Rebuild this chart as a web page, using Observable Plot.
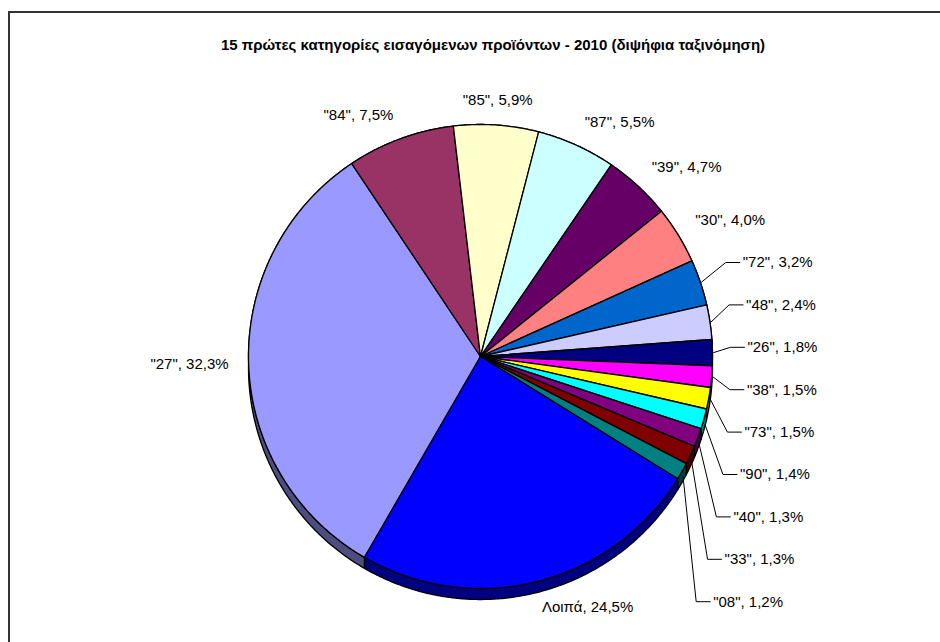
<!DOCTYPE html>
<html><head><meta charset="utf-8">
<script src="https://cdn.jsdelivr.net/npm/d3@7"></script>
<script src="https://cdn.jsdelivr.net/npm/@observablehq/plot@0.6"></script>
<style>
html,body{margin:0;padding:0;background:#fff;width:940px;height:642px;overflow:hidden;position:relative;font-family:"Liberation Sans",Arial,sans-serif}
#frame{position:absolute;left:8px;top:11px;width:1000px;height:700px;border-left:2px solid #333;border-top:2px solid #333;}
#title{position:absolute;top:36px;left:0;width:986px;text-align:center;font-weight:bold;font-size:15px;color:#000;line-height:18px}
#chart{position:absolute;left:0;top:60px}
</style></head><body>
<div id="frame"></div>
<div id="title">15 πρώτες κατηγορίες εισαγόμενων προϊόντων - 2010 (διψήφια ταξινόμηση)</div>
<div id="chart"></div>
<script>
// ---- data ----
const categories = ['"27"', '"84"', '"85"', '"87"', '"39"', '"30"', '"72"', '"48"', '"26"', '"38"', '"73"', '"90"', '"40"', '"33"', '"08"', 'Λοιπά'];
const shares = [32.3, 7.5, 5.9, 5.5, 4.7, 4.0, 3.2, 2.4, 1.8, 1.5, 1.5, 1.4, 1.3, 1.3, 1.2, 24.5];
// ---- styles ----
const palette = ["#9999FF", "#993366", "#FFFFCC", "#CCFFFF", "#660066", "#FF8080", "#0066CC", "#CCCCFF", "#000080", "#FF00FF", "#FFFF00", "#00FFFF", "#800080", "#800000", "#008080", "#0000FF"];

const W = 940, H = 582;          // svg size
const R = 232;                   // pie radius in px
const cx = 480, cy = 296;        // pie centre in svg px
const depth = 11 / R;            // 3D side depth in radius units
const startAngle = 210 * Math.PI / 180;

const rows = categories.map((c, i) => ({cat: c, share: shares[i],
  label: `${c}, ${shares[i].toFixed(1).replace(".", ",")}%`}));
const arcs = d3.pie().sort(null).value(d => d.share)
  .startAngle(startAngle).endAngle(startAngle + 2 * Math.PI)(rows);

function arcPts(a0, a1, dy) {
  const n = Math.max(2, Math.ceil(Math.abs(a1 - a0) / (Math.PI / 360)));
  const out = [];
  for (let k = 0; k <= n; k++) {
    const a = a0 + (a1 - a0) * k / n;
    out.push([Math.sin(a), Math.cos(a) - dy]);
  }
  return out;
}

const wedges = [], bands = [];
arcs.forEach(a => {
  const key = a.data.cat;
  [[0, 0], ...arcPts(a.startAngle, a.endAngle, 0)].forEach(([x, y]) => wedges.push({cat: key, x, y}));
  [...arcPts(a.startAngle, a.endAngle, 0), ...arcPts(a.endAngle, a.startAngle, depth)]
    .forEach(([x, y]) => bands.push({cat: key, x, y}));
});

// ---- labels ----
const small = arcs.filter(a => a.data.share < 3.5);
const big = arcs.filter(a => a.data.share >= 3.5);
const gap = 20 / R;
const bigLabels = big.map(a => {
  const m = (a.startAngle + a.endAngle) / 2;
  const s = Math.sin(m), c = Math.cos(m);
  return {text: a.data.label, x: s * (1 + gap), y: c * (1 + gap),
    ta: s > 0.2 ? "start" : s < -0.2 ? "end" : "middle",
    la: c > 0.25 ? "bottom" : c < -0.25 ? "top" : "middle"};
});
const step = 42.4 / R, top0 = 94 / R;
const leaders = [], smallLabels = [];
small.forEach((a, k) => {
  const m = (a.startAngle + a.endAngle) / 2;
  const ly = top0 - k * step;
  const lx = (267 / R) * Math.sqrt(1 - Math.pow(ly / (500 / R), 2));
  const pts = [[Math.sin(m) * 1.005, Math.cos(m) * 1.005 - (Math.cos(m) < -0.2 ? depth * 0.5 : 0)],
               [lx - 17 / R, ly], [lx - 3 / R, ly]];
  pts.forEach(([x, y]) => leaders.push({cat: a.data.cat, x, y}));
  smallLabels.push({text: a.data.label, x: lx, y: ly});
});

const font = {fontFamily: "Liberation Sans, Arial, sans-serif", fontSize: 15, fill: "#000"};
const textMarks = [];
d3.groups(bigLabels, d => d.ta + "|" + d.la).forEach(([k, arr]) => {
  const [ta, la] = k.split("|");
  textMarks.push(Plot.text(arr, {x: "x", y: "y", text: "text", textAnchor: ta, lineAnchor: la, ...font}));
});
textMarks.push(Plot.text(smallLabels, {x: "x", y: "y", text: "text", textAnchor: "start", lineAnchor: "middle", ...font}));

const chart = Plot.plot({
  width: W, height: H,
  margin: 0,
  x: {domain: [-cx / R, (W - cx) / R], range: [0, W], axis: null},
  y: {domain: [-(H - cy) / R, cy / R], range: [H, 0], axis: null},
  color: {domain: categories, range: palette},
  style: {background: "transparent", overflow: "visible"},
  marks: [
    Plot.line(bands, {x: "x", y: "y", z: "cat", fill: "black", stroke: "none", curve: "linear-closed"}),
    Plot.line(bands, {x: "x", y: "y", z: "cat", fill: "cat", fillOpacity: 0.5, stroke: "black", strokeWidth: 1.3, strokeLinejoin: "round", curve: "linear-closed"}),
    Plot.line(wedges, {x: "x", y: "y", z: "cat", fill: "cat", stroke: "black", strokeWidth: 1.3, strokeLinejoin: "round", curve: "linear-closed"}),
    Plot.line(leaders, {x: "x", y: "y", z: "cat", stroke: "black", strokeWidth: 1}),
    ...textMarks
  ]
});
document.getElementById("chart").append(chart);
</script>
</body></html>
